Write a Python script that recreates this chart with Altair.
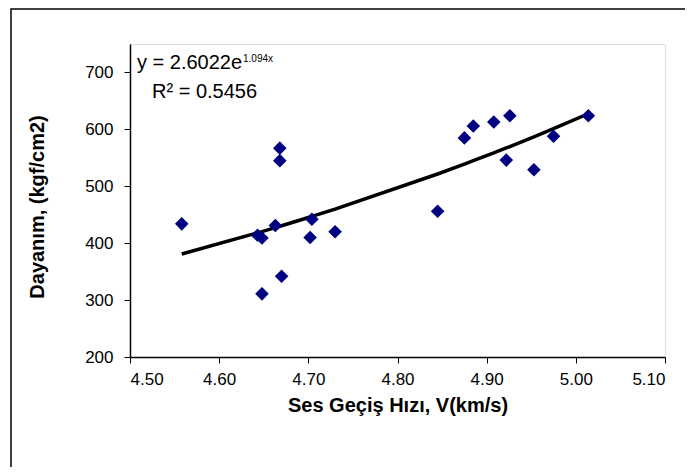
import altair as alt
import pandas as pd

# Data
velocity = [4.558, 4.643, 4.648, 4.648, 4.663, 4.668, 4.668, 4.670, 4.702, 4.704,
            4.730, 4.845, 4.875, 4.885, 4.908, 4.922, 4.926, 4.953, 4.975, 5.014]
strength = [434, 414, 409, 311, 431, 567, 545, 342, 410, 442,
            420, 456, 585, 606, 613, 546, 624, 529, 588, 624]

# Trendline equation shown on the chart: y = A * e^(B x)
A_COEF = 2.6022
B_COEF = 1.094
eq_main = "y = 2.6022e"
eq_sup = "1.094x"
r2_text = "R² = 0.5456"

x_ticks = [4.50, 4.60, 4.70, 4.80, 4.90, 5.00, 5.10]
y_ticks = [200, 300, 400, 500, 600, 700]

x_title = "Ses Geçiş Hızı, V(km/s)"
y_title = "Dayanım, (kgf/cm2)"

df = pd.DataFrame({"v": velocity, "s": strength})

W, H = 535, 313
FONT = "Liberation Sans"

xs = alt.Scale(domain=[4.5, 5.1], nice=False, zero=False)
ys = alt.Scale(domain=[200, 750], nice=False, zero=False)

x_axis = alt.Axis(values=x_ticks, format=".2f", grid=False, title=x_title,
                  labelFontSize=17, labelFont=FONT, labelColor="black", labelPadding=8,
                  tickSize=6, tickColor="black", domainColor="black", domainWidth=1.5,
                  titleFont=FONT, titleFontSize=20, titleFontWeight="bold",
                  titleColor="black", titleX=W / 2, titleY=48, titleBaseline="middle")
y_axis = alt.Axis(values=y_ticks, format="d", grid=False, title=y_title,
                  labelFontSize=17, labelFont=FONT, labelColor="black", labelPadding=11,
                  tickSize=6, tickColor="black", domainColor="black", domainWidth=1.5,
                  titleFont=FONT, titleFontSize=20, titleFontWeight="bold",
                  titleColor="black", titleX=-93, titleY=H / 2 + 6, titleAngle=-90,
                  titleAlign="center", titleBaseline="middle")

points = alt.Chart(df).mark_point(shape="diamond", filled=True, size=185,
                                  color="#000080", opacity=1).encode(
    x=alt.X("v:Q", scale=xs, axis=x_axis),
    y=alt.Y("s:Q", scale=ys, axis=y_axis),
)

trend = alt.Chart(df).transform_calculate(
    fit=f"{A_COEF} * exp({B_COEF} * datum.v)"
).mark_line(color="black", strokeWidth=3.5).encode(
    x=alt.X("v:Q", scale=xs),
    y=alt.Y("fit:Q", scale=ys),
    order="v:Q",
)

ann = pd.DataFrame({"t": [eq_main], "sup": [eq_sup], "r2": [r2_text]})
eq1 = alt.Chart(ann).mark_text(align="left", baseline="alphabetic", font=FONT,
                                fontSize=20, color="black").encode(
    x=alt.value(7), y=alt.value(25), text="t:N")
eq2 = alt.Chart(ann).mark_text(align="left", baseline="alphabetic", font=FONT,
                                fontSize=10, color="black").encode(
    x=alt.value(113), y=alt.value(18), text="sup:N")
eq3 = alt.Chart(ann).mark_text(align="left", baseline="alphabetic", font=FONT,
                                fontSize=20, color="black").encode(
    x=alt.value(22), y=alt.value(54), text="r2:N")

frame = alt.Chart(ann).mark_rect(fill=None, stroke="black", strokeWidth=1.5).encode(
    x=alt.value(-119), x2=alt.value(700), y=alt.value(-35), y2=alt.value(500))

chart = alt.layer(frame, trend, points, eq1, eq2, eq3).properties(
    width=W, height=H,
    autosize=alt.AutoSizeParams(type="none"),
    padding={"left": 122, "top": 36, "right": 20, "bottom": 110},
).configure_view(stroke="#808080", strokeWidth=2).configure(background="white")

chart.save("out.html", embed_options={"renderer": "svg", "actions": False})
